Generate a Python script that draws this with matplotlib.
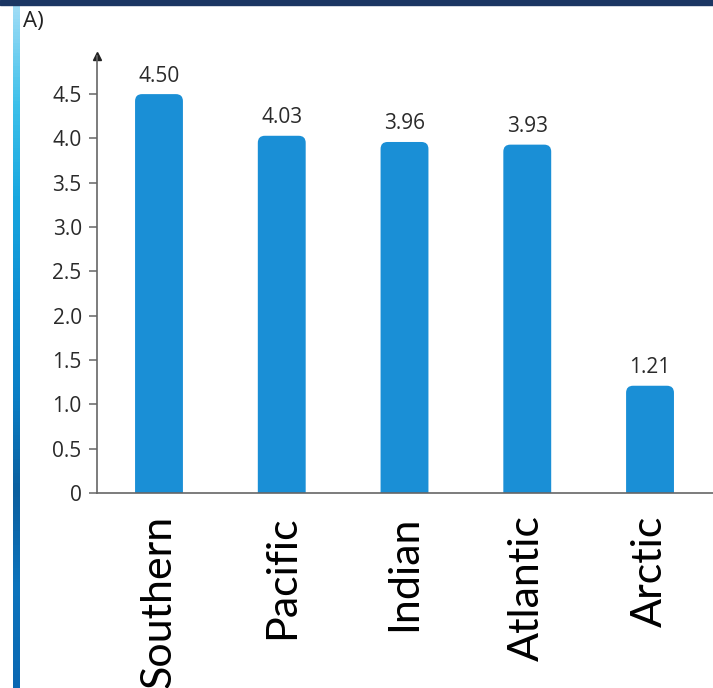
import numpy as np
import matplotlib
matplotlib.use("Agg")
from matplotlib import pyplot as plt
from matplotlib.patches import FancyBboxPatch, Rectangle
from matplotlib.colors import LinearSegmentedColormap

oceans = ["Southern", "Pacific", "Indian", "Atlantic", "Arctic"]
values = [4.50, 4.03, 3.96, 3.93, 1.21]
value_labels = ["4.50", "4.03", "3.96", "3.93", "1.21"]
yticks = [0, 0.5, 1.0, 1.5, 2.0, 2.5, 3.0, 3.5, 4.0, 4.5]
ytick_labels = ["0", "0.5", "1.0", "1.5", "2.0", "2.5", "3.0", "3.5", "4.0", "4.5"]

W, H = 713, 688
fig = plt.figure(figsize=(W/100, H/100), dpi=100)
fig.patch.set_facecolor("white")

# slide decoration: navy band on top, blue gradient strip on the left
fig.patches.append(Rectangle((0, 1-5/H), 1, 5/H, transform=fig.transFigure,
                             color="#1b3663", zorder=5))
strip = fig.add_axes([13/W, 0, 7/W, 1-5/H])
cmap = LinearSegmentedColormap.from_list("strip", ["#9fdcf6", "#3cc0ea", "#17a6df",
                                                   "#0e8fd3", "#0a7fc6", "#0b5f9f",
                                                   "#0c74bd", "#0a68b2"])
strip.imshow(np.linspace(0, 1, 200).reshape(-1, 1), aspect="auto", cmap=cmap)
strip.axis("off")

fig.text(23/W, 1-11/H, "A)", fontsize=16, family="Open Sans", color="#222222",
         va="top", ha="left")

ax = fig.add_axes([97/W, 1-493/H, 616/W, (493-56)/H])
x = np.arange(len(oceans))
bars = ax.bar(x, values, width=0.39, color="#1a8fd6")

# rounded tops
sx = 616/(4.513+0.505)
sy = (493-56)/4.93
r = 7/sx
for b in bars:
    b.set_visible(False)
    p = FancyBboxPatch((b.get_x(), -0.3), b.get_width(), b.get_height()+0.3,
                       boxstyle=f"round,pad=0,rounding_size={r}",
                       mutation_aspect=sx/sy, fc="#1a8fd6", ec="none", zorder=2)
    ax.add_patch(p)

for xi, v, lab in zip(x, values, value_labels):
    ax.annotate(lab, (xi, v), xytext=(0, 18), textcoords="offset pixels",
                ha="center", va="center", fontsize=15, family="Open Sans",
                color="#2a2a2a")

ax.set_xlim(-0.505, 4.513)
ax.set_ylim(0, 4.93)
ax.set_yticks(yticks)
ax.set_yticklabels(ytick_labels, fontsize=15, family="Open Sans", color="#2a2a2a")
ax.set_xticks(x)
ax.set_xticklabels(oceans, rotation=90, fontsize=31, family="Lato", color="black")
ax.tick_params(axis="x", length=0, pad=16)
ax.tick_params(axis="y", length=6, width=1.1, color="#666666", pad=5)

for s in ["top", "right"]:
    ax.spines[s].set_visible(False)
for s in ["left", "bottom"]:
    ax.spines[s].set_color("#666666")
    ax.spines[s].set_linewidth(1.2)

ax.plot([0], [1], marker="^", markersize=6, color="#222222",
        transform=ax.transAxes, clip_on=False)

fig.savefig("out.png", dpi=100)
